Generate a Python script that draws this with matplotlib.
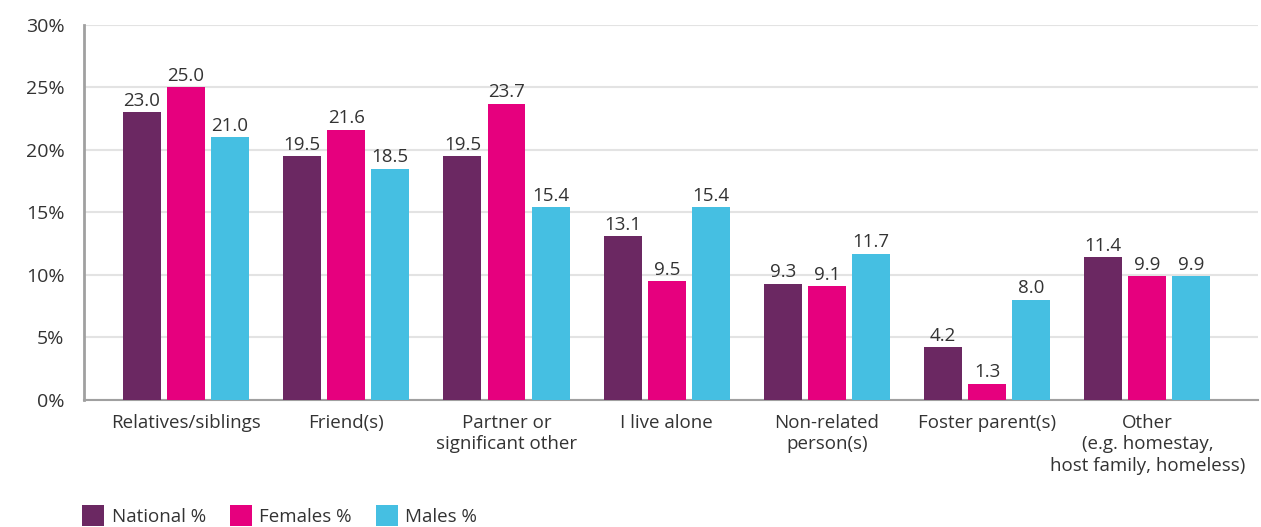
import matplotlib
matplotlib.use("Agg")
import matplotlib.pyplot as plt
import numpy as np
from matplotlib.patches import Patch

categories = ["Relatives/siblings", "Friend(s)", "Partner or\nsignificant other", "I live alone",
              "Non-related\nperson(s)", "Foster parent(s)", "Other\n(e.g. homestay,\nhost family, homeless)"]
series_names = ["National %", "Females %", "Males %"]
national = [23.0, 19.5, 19.5, 13.1, 9.3, 4.2, 11.4]
females = [25.0, 21.6, 23.7, 9.5, 9.1, 1.3, 9.9]
males = [21.0, 18.5, 15.4, 15.4, 11.7, 8.0, 9.9]
yticks = [0, 5, 10, 15, 20, 25, 30]
colors = ["#6B2862", "#E6007E", "#45BFE2"]

plt.rcParams['font.family'] = ['Open Sans', 'DejaVu Sans']
txt = "#333333"

fig = plt.figure(figsize=(12.61, 5.27), dpi=100)
ax = fig.add_axes([0.0666, 0.241, 0.931, 0.7116])

x = np.arange(len(categories))
w = 0.237
off = 0.275
for i, (vals, c) in enumerate(zip([national, females, males], colors)):
    pos = x + (i - 1) * off
    ax.bar(pos, vals, width=w, color=c, zorder=3)
    for p, v in zip(pos, vals):
        ax.text(p, v + 0.2, f"{v:.1f}", ha="center", va="bottom", fontsize=13.5, color=txt)

ax.set_xlim(-0.637, 6.69)
ax.set_ylim(0, 30)
ax.set_yticks(yticks)
ax.set_yticklabels([f"{t}%" for t in yticks], fontsize=14, color=txt)
ax.set_xticks(x)
ax.set_xticklabels(categories, fontsize=13.5, color=txt, linespacing=1.25)
ax.tick_params(axis="both", length=0)
ax.tick_params(axis="y", pad=14)
ax.tick_params(axis="x", pad=10)
ax.grid(axis="y", color="#e3e3e3", linewidth=1.5, zorder=0)
for s in ["top", "right"]:
    ax.spines[s].set_visible(False)
ax.spines["left"].set_color("#a0a0a0")
ax.spines["left"].set_linewidth(2)
ax.spines["bottom"].set_color("#a0a0a0")
ax.spines["bottom"].set_linewidth(1.5)

handles = [Patch(facecolor=c, label=n) for c, n in zip(colors, series_names)]
fig.legend(handles=handles, loc="lower left", bbox_to_anchor=(0.052, -0.03), ncol=3,
           frameon=False, fontsize=13.5, handlelength=1.15, handleheight=1.3,
           handletextpad=0.4, columnspacing=1.3, labelcolor=txt)

fig.savefig("out.png", dpi=100)
